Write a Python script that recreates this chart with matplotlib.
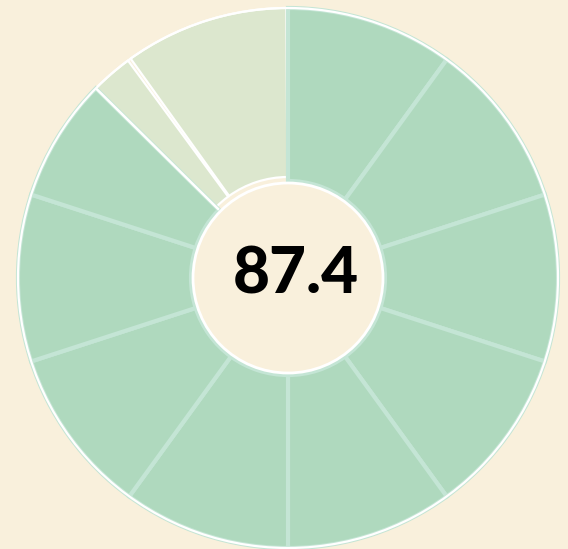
import numpy as np
import matplotlib
matplotlib.use("Agg")
import matplotlib.pyplot as plt
from matplotlib.patches import Wedge, Circle

# gauge data
value = 87.4
max_value = 100
n_segments = 10
label = "87.4"

bg = "#f9f0dc"
green = "#afd9be"
green_edge = "#c4e5d5"
track = "#dce7ce"

fig = plt.figure(figsize=(5.68, 5.49), dpi=100)
fig.patch.set_facecolor(bg)
ax = fig.add_axes([0, 0, 1, 1])
ax.set_xlim(0, 568)
ax.set_ylim(0, 549)
ax.set_aspect("equal")
ax.axis("off")

cx, cy = 288, 271
r_out, r_in = 270, 101
r_fill_in = 97
seg = max_value / n_segments


def to_mpl(v):
    # value -> matplotlib angle (clockwise from 12 o'clock)
    return 90 - v / max_value * 360


# background track segments
pad = 0.35
for i in range(n_segments):
    a0, a1 = i * seg, (i + 1) * seg
    ax.add_patch(Wedge((cx, cy), r_out, to_mpl(a1) + pad, to_mpl(a0) - pad,
                       width=r_out - r_in, facecolor=track, edgecolor="white",
                       lw=1.6, zorder=1))

# filled segments
for i in range(n_segments):
    a0 = i * seg
    a1 = min((i + 1) * seg, value)
    if a1 <= a0:
        break
    ax.add_patch(Wedge((cx, cy), r_out, to_mpl(a1), to_mpl(a0),
                       width=r_out - r_fill_in, facecolor=green, edgecolor=green_edge,
                       lw=3.0, zorder=2))

# white line at the end of the fill
t = np.deg2rad(to_mpl(value))
ax.plot([cx + r_fill_in * np.cos(t), cx + r_out * np.cos(t)],
        [cy + r_fill_in * np.sin(t), cy + r_out * np.sin(t)],
        color="white", lw=1.8, zorder=3, solid_capstyle="butt")

# outer white rim
ax.add_patch(Circle((cx, cy), r_out, fill=False, edgecolor="white", lw=1.6, zorder=3))

# centre disc
ax.add_patch(Circle((cx, cy), 95, facecolor=bg, edgecolor="white", lw=2.0, zorder=4))
ax.text(cx + 8, cy + 3, label, ha="center", va="center", fontsize=46,
        fontweight=900, family=["Lato", "DejaVu Sans"], color="black", zorder=5)

fig.savefig("out.png", dpi=100, facecolor=bg)
